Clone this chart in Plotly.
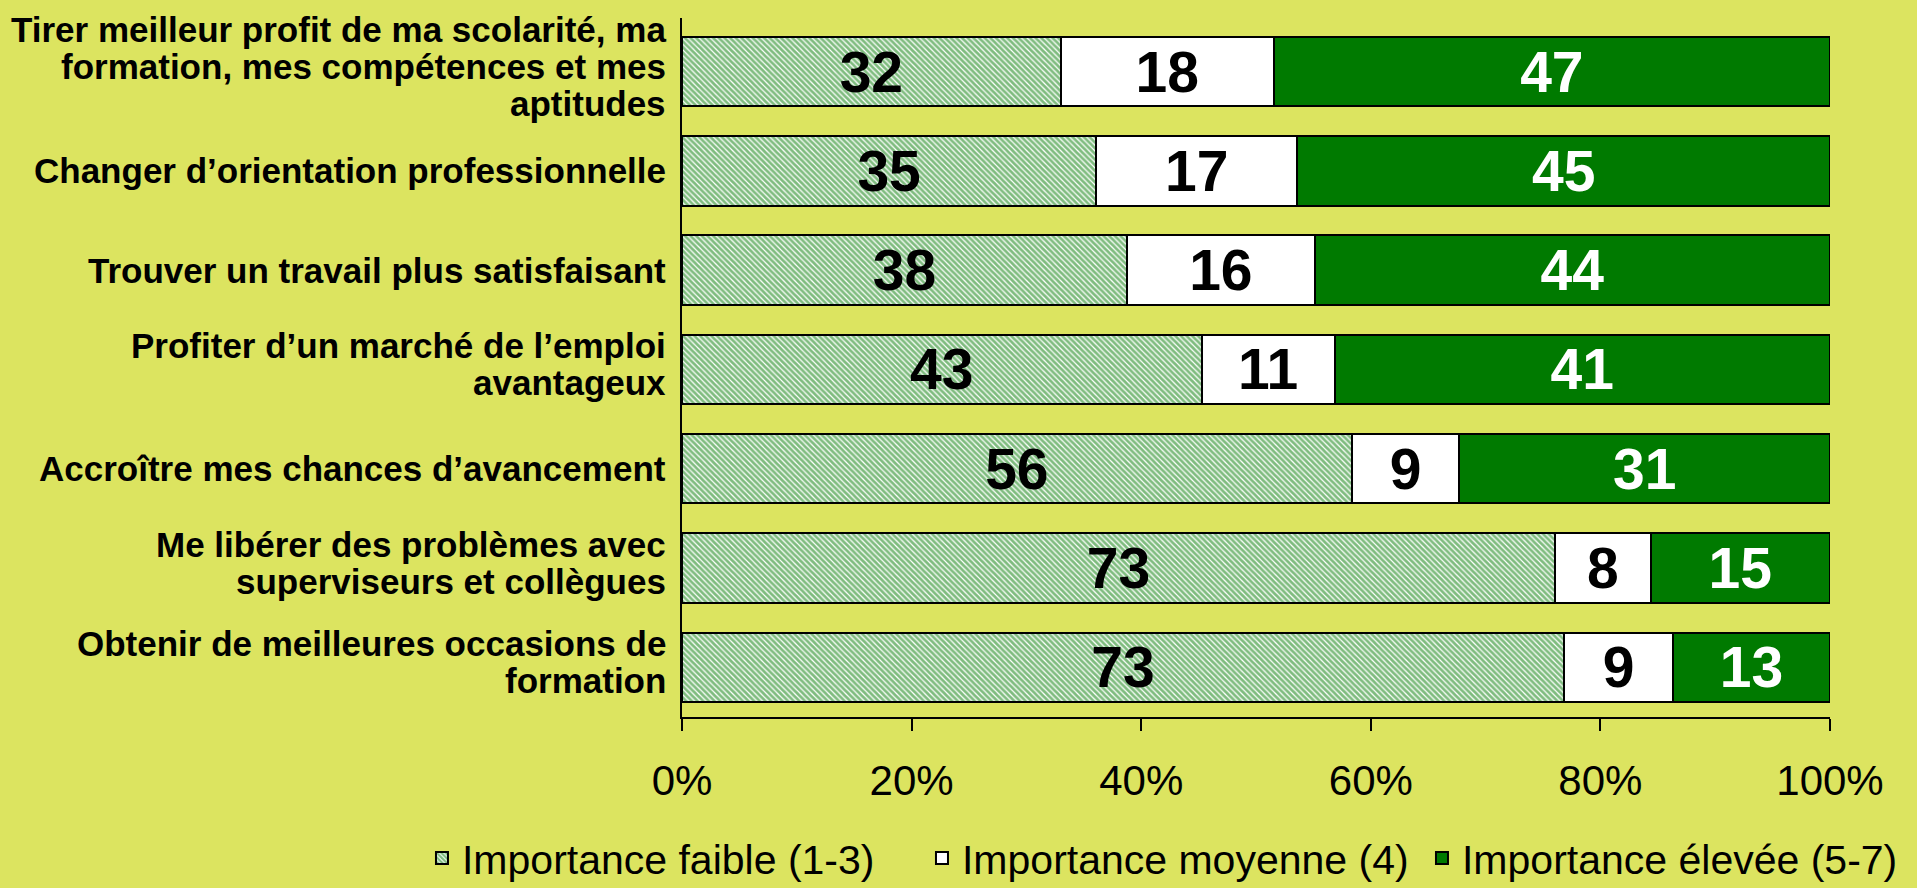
import plotly.graph_objects as go

categories = [
    "Tirer meilleur profit de ma scolarité, ma<br>formation, mes compétences et mes<br>aptitudes",
    "Changer d’orientation professionnelle",
    "Trouver un travail plus satisfaisant",
    "Profiter d’un marché de l’emploi<br>avantageux",
    "Accroître mes chances d’avancement",
    "Me libérer des problèmes avec<br>superviseurs et collègues",
    "Obtenir de meilleures occasions de<br>formation",
]
faible = [32, 35, 38, 43, 56, 73, 73]
moyenne = [18, 17, 16, 11, 9, 8, 9]
elevee = [47, 45, 44, 41, 31, 15, 13]
series_names = ["Importance faible (1-3)", "Importance moyenne (4)", "Importance élevée (5-7)"]
tick_vals = [0, 20, 40, 60, 80, 100]
tick_text = ["0%", "20%", "40%", "60%", "80%", "100%"]

GREEN = "#007a00"
BG = "#dce460"
FONT = "Liberation Sans, Arial, sans-serif"
LINE_GAP = 37

fig = go.Figure()
common = dict(orientation="h", texttemplate="%{text}", textposition="inside",
              insidetextanchor="middle", constraintext="none", textangle=0,
              hoverinfo="skip")
fig.add_trace(go.Bar(
    y=categories, x=faible, name=series_names[0], text=faible,
    textfont=dict(size=57, color="black", family=FONT, weight="bold"),
    marker=dict(color="white", line=dict(color="black", width=2),
                pattern=dict(shape="\\", fgcolor=GREEN, bgcolor="white", size=4, solidity=0.7)),
    **common,
))
fig.add_trace(go.Bar(
    y=categories, x=moyenne, name=series_names[1], text=moyenne,
    textfont=dict(size=57, color="black", family=FONT, weight="bold"),
    marker=dict(color="white", line=dict(color="black", width=2)),
    **common,
))
fig.add_trace(go.Bar(
    y=categories, x=elevee, name=series_names[2], text=elevee,
    textfont=dict(size=57, color="white", family=FONT, weight="bold"),
    marker=dict(color=GREEN, line=dict(color="black", width=2)),
    **common,
))

# category labels, drawn line by line to get the tighter line spacing of the original
annotations = []
for cat in categories:
    lines = cat.split("<br>")
    n = len(lines)
    for j, line in enumerate(lines):
        shift = ((n - 1) / 2 - j) * LINE_GAP + (5 if n > 1 else 0)
        annotations.append(dict(
            x=0, xref="paper", y=cat, yref="y", text=line, showarrow=False,
            xanchor="right", yanchor="middle", xshift=-14, yshift=shift,
            font=dict(size=35, family=FONT, color="black", weight="bold"),
        ))

fig.update_layout(
    width=1917, height=888,
    barmode="stack", barnorm="percent", bargap=0.3,
    paper_bgcolor=BG, plot_bgcolor=BG,
    margin=dict(l=682, r=87, t=18, b=171, autoexpand=False),
    font=dict(family=FONT, color="black"),
    showlegend=True,
    legend=dict(orientation="h", x=-0.2265, xanchor="left", xref="paper",
                y=-0.2023, yanchor="middle", yref="paper",
                font=dict(size=41, family=FONT), bgcolor="rgba(0,0,0,0)",
                traceorder="normal", itemwidth=30, tracegroupgap=0,
                entrywidth=455, entrywidthmode="pixels"),
    annotations=annotations,
)
fig.update_xaxes(
    range=[0, 100], tickvals=tick_vals, ticktext=tick_text,
    showgrid=False, zeroline=False, automargin=False,
    showline=True, linecolor="black", linewidth=2,
    ticks="outside", ticklen=12, tickwidth=2, tickcolor="black",
    tickfont=dict(size=42, family=FONT, color="black"),
    ticklabelstandoff=14,
)
fig.update_yaxes(
    autorange="reversed", showgrid=False, zeroline=False, automargin=False,
    showline=True, linecolor="black", linewidth=2,
    ticks="", showticklabels=False,
)

fig.write_html(
    "out.html",
    config={"displayModeBar": False},
    post_script="document.body.style.margin='0';document.body.style.overflow='hidden';",
)
